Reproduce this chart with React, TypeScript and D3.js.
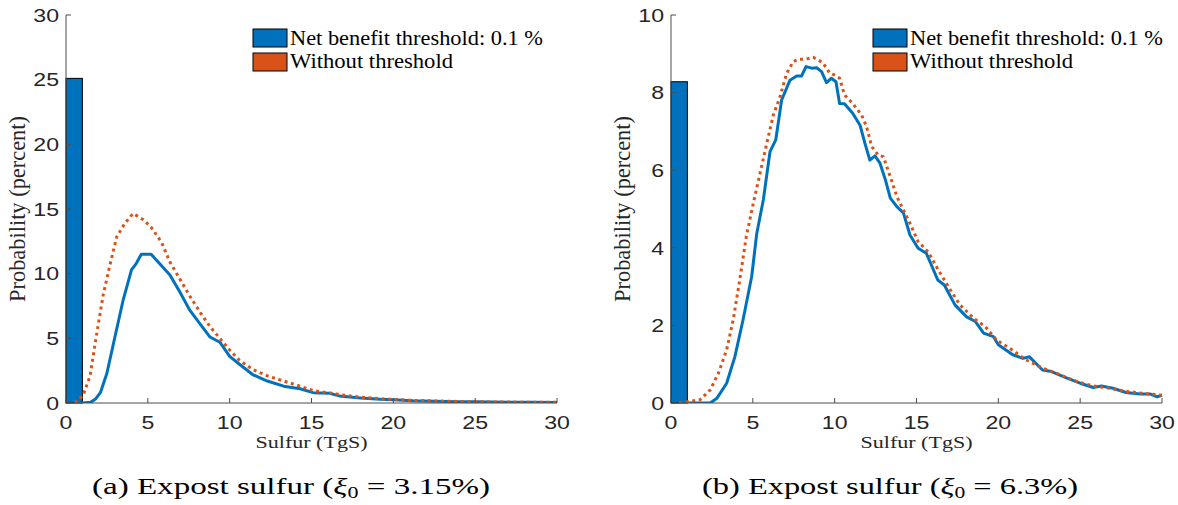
import React from "react";
import * as d3 from "d3";

// ---------- data ----------
const xTicks = [0, 5, 10, 15, 20, 25, 30];
const yTicksA = [0, 5, 10, 15, 20, 25, 30];
const yTicksB = [0, 2, 4, 6, 8, 10];

const legendLabels = ["Net benefit threshold: 0.1 %", "Without threshold"];

// panel (a): xi0 = 3.15%
const barA = { x0: 0, x1: 1, value: 25.1 };
const threshAX = [0.5, 1.0, 1.5, 1.8, 2.1, 2.5, 2.9, 3.5, 4.0, 4.3, 4.6, 5.2, 5.7, 6.35, 6.95, 7.55, 8.2, 8.8, 9.4, 10.0, 10.6, 11.4, 12.3, 13.3, 14.3, 15.1, 16.1, 16.7, 18, 19.2, 20, 21.2, 22.5, 24, 25, 27, 28.5, 30];
const threshAY = [0, 0, 0.05, 0.3, 0.8, 2.3, 4.6, 8.0, 10.3, 10.8, 11.5, 11.5, 10.8, 9.9, 8.6, 7.2, 6.1, 5.1, 4.7, 3.6, 3.0, 2.2, 1.7, 1.3, 1.1, 0.8, 0.75, 0.55, 0.38, 0.29, 0.26, 0.18, 0.14, 0.1, 0.09, 0.06, 0.05, 0.04];
const noThreshAX = [0.55, 1.05, 1.47, 1.87, 2.28, 2.69, 3.1, 3.6, 4.1, 4.7, 5.2, 5.85, 6.35, 6.95, 7.55, 8.2, 8.8, 9.4, 10.0, 10.6, 11.4, 12.3, 13.3, 14.3, 15.1, 16.1, 17, 18, 19.2, 20, 21.2, 22.5, 24, 25, 27, 28.5, 30];
const noThreshAY = [0, 0.6, 2.1, 5.3, 8.4, 10.7, 12.85, 13.9, 14.65, 14.2, 13.6, 12.4, 10.9, 9.6, 8.3, 7.0, 5.9, 5.0, 4.1, 3.3, 2.6, 2.1, 1.7, 1.3, 0.95, 0.78, 0.6, 0.45, 0.33, 0.28, 0.2, 0.16, 0.12, 0.1, 0.07, 0.06, 0.05];

// panel (b): xi0 = 6.3%
const barB = { x0: 0, x1: 1, value: 8.28 };
const threshBX = [0.5, 1, 2.4, 2.8, 3.4, 3.9, 4.4, 4.93, 5.24, 5.64, 6.05, 6.4, 6.76, 7.27, 7.68, 7.98, 8.25, 8.6, 8.9, 9.2, 9.5, 9.8, 10.08, 10.3, 10.6, 11.1, 11.55, 11.85, 12.15, 12.46, 12.77, 13.1, 13.4, 13.8, 14.2, 14.6, 15.1, 15.6, 16.3, 16.7, 17.35, 18.06, 18.6, 19.1, 19.7, 20.0, 20.9, 21.5, 21.9, 22.7, 23.25, 24.2, 25.0, 25.8, 26.3, 27.0, 27.8, 28.65, 29.3, 29.7, 30];
const threshBY = [0, 0, 0, 0.12, 0.51, 1.19, 2.14, 3.26, 4.37, 5.23, 6.48, 6.78, 7.81, 8.32, 8.43, 8.43, 8.67, 8.63, 8.64, 8.54, 8.26, 8.37, 8.28, 7.72, 7.71, 7.47, 7.16, 6.69, 6.26, 6.37, 6.18, 5.75, 5.28, 5.06, 4.9, 4.33, 3.99, 3.86, 3.17, 3.04, 2.53, 2.22, 2.1, 1.8, 1.71, 1.5, 1.24, 1.15, 1.19, 0.85, 0.81, 0.64, 0.51, 0.4, 0.44, 0.38, 0.27, 0.23, 0.23, 0.16, 0.2];
const noThreshBX = [0.5, 1.77, 2.4, 2.9, 3.4, 3.8, 4.2, 4.6, 5.03, 5.44, 5.85, 6.25, 6.66, 7.07, 7.47, 7.78, 8.0, 8.39, 8.69, 9.0, 9.3, 9.7, 10.0, 10.3, 10.6, 11.1, 11.65, 11.95, 12.26, 12.66, 12.97, 13.4, 13.8, 14.6, 15.1, 15.7, 16.4, 17.0, 17.65, 18.5, 19.2, 19.9, 20.7, 21.7, 22.75, 23.8, 24.8, 25.8, 26.8, 27.8, 28.8, 30];
const noThreshBY = [0, 0.08, 0.34, 0.77, 1.37, 2.14, 3.17, 4.29, 5.15, 5.92, 6.69, 7.42, 7.89, 8.5, 8.8, 8.86, 8.86, 8.88, 8.91, 8.84, 8.76, 8.5, 8.45, 8.37, 7.94, 7.72, 7.42, 7.12, 6.61, 6.39, 6.35, 5.83, 5.32, 4.63, 4.16, 3.9, 3.38, 2.96, 2.53, 2.18, 1.97, 1.62, 1.41, 1.11, 0.89, 0.72, 0.55, 0.44, 0.38, 0.3, 0.25, 0.2];

// ---------- style ----------
const BLUE = "#0072BD";
const ORANGE = "#D95319";
const AXIS = "#4d4d4d";
const TEXT = "#262626";
const SANS = "'Liberation Sans', Arial, Helvetica, sans-serif";
const SERIF = "'Liberation Serif', 'Times New Roman', serif";
const SANS_STRETCH = 1.25;

type PanelProps = {
  left: number;
  right: number;
  top: number;
  bottom: number;
  yMax: number;
  yTicks: number[];
  bar: { x0: number; x1: number; value: number };
  tX: number[];
  tY: number[];
  nX: number[];
  nY: number[];
  legendX: number;
  ylabelX: number;
};

function Panel(p: PanelProps) {
  const x = d3.scaleLinear().domain([0, 30]).range([p.left, p.right]);
  const y = d3.scaleLinear().domain([0, p.yMax]).range([p.bottom, p.top]);
  const line = d3
    .line<[number, number]>()
    .x((d) => x(d[0]))
    .y((d) => y(d[1]));
  const tPts = p.tX.map((v, i) => [v, p.tY[i]] as [number, number]);
  const nPts = p.nX.map((v, i) => [v, p.nY[i]] as [number, number]);
  const cx = (p.left + p.right) / 2;
  const cy = (p.top + p.bottom) / 2;
  return (
    <g>
      <defs>
        <clipPath id={`clip${p.left}`}>
          <rect x={p.left} y={p.top} width={p.right - p.left + 2} height={p.bottom - p.top} />
        </clipPath>
      </defs>
      {/* bar */}
      <rect
        x={x(p.bar.x0)}
        y={y(p.bar.value)}
        width={x(p.bar.x1) - x(p.bar.x0)}
        height={y(0) - y(p.bar.value)}
        fill={BLUE}
        stroke="#000"
        strokeWidth={1}
      />
      <g clipPath={`url(#clip${p.left})`}>
        <path d={line(tPts) || ""} fill="none" stroke={BLUE} strokeWidth={3} strokeLinejoin="round" />
        <path d={line(nPts) || ""} fill="none" stroke={ORANGE} strokeWidth={3} strokeDasharray="3 3.6" />
      </g>
      {/* axes */}
      <line x1={p.left} x2={p.left} y1={p.top} y2={p.bottom} stroke={AXIS} strokeWidth={1} />
      <line x1={p.left} x2={p.right} y1={p.bottom} y2={p.bottom} stroke={AXIS} strokeWidth={1} />
      {xTicks.map((t) => (
        <g key={`x${t}`}>
          <line x1={x(t)} x2={x(t)} y1={p.bottom} y2={p.bottom - 5} stroke={AXIS} strokeWidth={1} />
          <text
            transform={`translate(${x(t)},${p.bottom + 26}) scale(${SANS_STRETCH},1)`}
            textAnchor="middle"
            fontFamily={SANS}
            fontSize={18.5}
            fill={TEXT}
          >
            {t}
          </text>
        </g>
      ))}
      {p.yTicks.map((t) => (
        <g key={`y${t}`}>
          <line x1={p.left} x2={p.left + 5} y1={y(t)} y2={y(t)} stroke={AXIS} strokeWidth={1} />
          <text
            transform={`translate(${p.left - 7},${y(t) + 6.7}) scale(${SANS_STRETCH},1)`}
            textAnchor="end"
            fontFamily={SANS}
            fontSize={18.5}
            fill={TEXT}
          >
            {t}
          </text>
        </g>
      ))}
      <text
        x={cx}
        y={p.bottom + 45}
        textAnchor="middle"
        fontFamily={SERIF}
        fontSize={17}
        fill={TEXT}
        textLength={112}
        lengthAdjust="spacingAndGlyphs"
      >
        Sulfur (TgS)
      </text>
      <text
        transform={`translate(${p.ylabelX},${cy}) scale(1.15,1) rotate(-90)`}
        textAnchor="middle"
        fontFamily={SERIF}
        fontSize={20}
        fill={TEXT}
        textLength={186}
        lengthAdjust="spacingAndGlyphs"
      >
        Probability (percent)
      </text>
      {/* legend */}
      {legendLabels.map((lab, i) => (
        <g key={lab}>
          <rect
            x={p.legendX}
            y={29 + i * 24}
            width={34}
            height={18}
            fill={i === 0 ? BLUE : ORANGE}
            stroke="#000"
            strokeWidth={1}
          />
          <text
            x={p.legendX + 37}
            y={45 + i * 23}
            fontFamily={SERIF}
            fontSize={21.5}
            fill="#000"
            textLength={i === 0 ? 253 : 163}
            lengthAdjust="spacingAndGlyphs"
          >
            {lab}
          </text>
        </g>
      ))}
    </g>
  );
}

export default function App() {
  return (
    <svg
      width={1178}
      height={505}
      style={{ position: "absolute", left: 0, top: 0, background: "#fff" }}
    >
      <rect x={0} y={0} width={1178} height={505} fill="#fff" />
      <Panel
        left={66}
        right={557}
        top={15}
        bottom={403}
        yMax={30}
        yTicks={yTicksA}
        bar={barA}
        tX={threshAX}
        tY={threshAY}
        nX={noThreshAX}
        nY={noThreshAY}
        legendX={253}
        ylabelX={25}
      />
      <Panel
        left={671}
        right={1162}
        top={15}
        bottom={403}
        yMax={10}
        yTicks={yTicksB}
        bar={barB}
        tX={threshBX}
        tY={threshBY}
        nX={noThreshBX}
        nY={noThreshBY}
        legendX={873}
        ylabelX={630}
      />
      <text
        x={92}
        y={494}
        fontFamily={SERIF}
        fontSize={24}
        fill="#000"
        textLength={398}
        lengthAdjust="spacingAndGlyphs"
      >
        (a) Expost sulfur (
        <tspan fontStyle="italic">ξ</tspan>
        <tspan fontSize={16} dy={4}>0</tspan>
        <tspan dy={-4}> = 3.15%)</tspan>
      </text>
      <text
        x={702}
        y={494}
        fontFamily={SERIF}
        fontSize={24}
        fill="#000"
        textLength={376}
        lengthAdjust="spacingAndGlyphs"
      >
        (b) Expost sulfur (
        <tspan fontStyle="italic">ξ</tspan>
        <tspan fontSize={16} dy={4}>0</tspan>
        <tspan dy={-4}> = 6.3%)</tspan>
      </text>
    </svg>
  );
}
